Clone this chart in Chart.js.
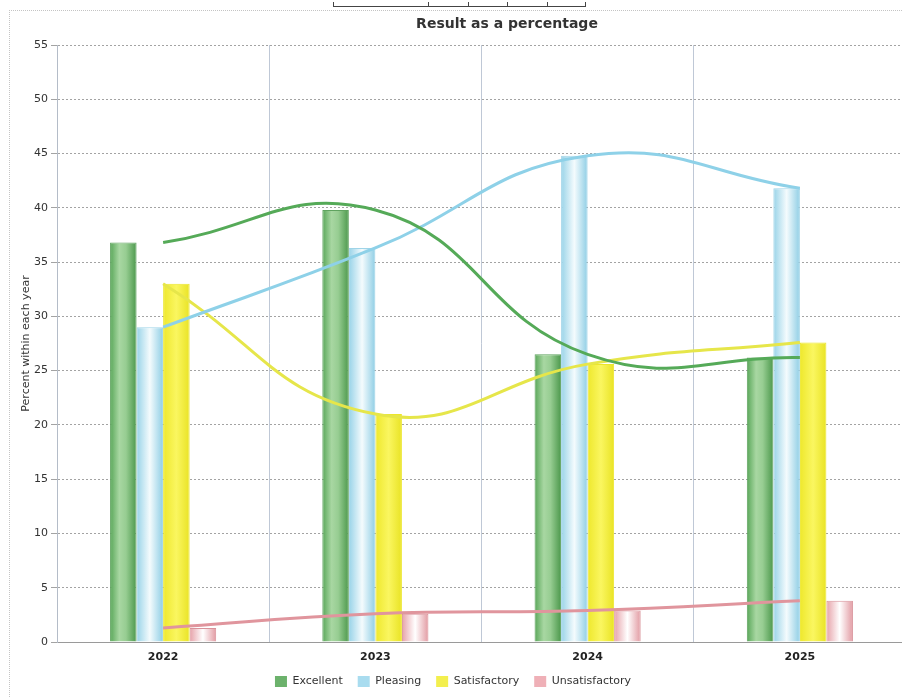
<!DOCTYPE html>
<html>
<head>
<meta charset="utf-8">
<script src="https://cdn.jsdelivr.net/npm/chart.js@4.4.1/dist/chart.umd.min.js"></script>
<style>
  html, body { margin: 0; padding: 0; background: #fff; overflow: hidden; width: 902px; height: 698px; }
  #wrap { position: relative; width: 920px; height: 698px; }
  #frame { position: absolute; left: 9px; top: 10px; width: 920px; height: 700px;
           border-left: 1px dotted #c4c4c4; border-top: 1px dotted #c4c4c4; }
  #bracket { position: absolute; left: 333px; top: 6px; width: 253px; height: 0; border-bottom: 1px solid #444; }
  .tk { position: absolute; top: -4px; width: 1px; height: 4px; background: #444; }
  canvas { position: absolute; left: 0; top: 0; }
</style>
</head>
<body>
<div id="wrap">
  <div id="frame"></div>
  <div id="bracket">
    <div class="tk" style="left:0"></div>
    <div class="tk" style="left:95px"></div>
    <div class="tk" style="left:135px"></div>
    <div class="tk" style="left:174px"></div>
    <div class="tk" style="left:214px"></div>
    <div class="tk" style="left:252px"></div>
  </div>
  <canvas id="chart" width="920" height="697"></canvas>
</div>
<script>
// Years and results (percent of each year's cohort)
const years = ['2022', '2023', '2024', '2025'];
const excellent = [36.8, 39.8, 26.5, 26.2];
const pleasing = [29.0, 36.3, 44.8, 41.8];
const satisfactory = [33.0, 21.0, 25.6, 27.6];
const unsatisfactory = [1.3, 2.6, 2.9, 3.8];
const yTicks = [0, 5, 10, 15, 20, 25, 30, 35, 40, 45, 50, 55];

const chartTitle = 'Result as a percentage';
const yTitle = 'Percent within each year';

// Horizontal colour stops giving each bar a rounded, cylinder-like shading
const cylinderPlugin = {
  id: 'cylinder',
  beforeDatasetDraw(chart, args) {
    const meta = args.meta;
    const ds = chart.data.datasets[args.index];
    if (meta.type !== 'bar' || !ds.shade) return;
    const ctx = chart.ctx;
    meta.data.forEach(el => {
      const { x, width } = el.getProps(['x', 'width'], true);
      const g = ctx.createLinearGradient(x - width / 2, 0, x + width / 2, 0);
      ds.shade.forEach(([pos, col]) => g.addColorStop(pos, col));
      el.options = Object.assign({}, el.options, { backgroundColor: g });
    });
  }
};

// Bold heading drawn above the plot
const headingPlugin = {
  id: 'heading',
  afterDraw(chart) {
    const ctx = chart.ctx;
    ctx.save();
    ctx.font = 'bold 14px "DejaVu Sans", Verdana, sans-serif';
    ctx.fillStyle = '#333';
    ctx.textAlign = 'center';
    ctx.textBaseline = 'middle';
    ctx.fillText(chartTitle, 507, 24);
    ctx.restore();
  }
};

function barSet(label, data, flat, border, shade) {
  return {
    type: 'bar', label, data, order: 1,
    backgroundColor: flat, borderColor: border, borderWidth: 1,
    borderSkipped: 'bottom', shade,
    barPercentage: 1.0, categoryPercentage: 0.5
  };
}
function lineSet(label, data, color) {
  return {
    type: 'line', label, data, order: 0,
    borderColor: color, borderWidth: 3, pointRadius: 0,
    tension: 0.45, fill: false
  };
}

const datasets = [
  barSet('Excellent', excellent, '#6cb26c', '#5fa35f',
    [[0, '#58a658'], [0.35, '#a8d7a2'], [0.6, '#97cd92'], [1, '#4c984c']]),
  barSet('Pleasing', pleasing, '#a9dcef', '#9fd4e8',
    [[0, '#98d3e8'], [0.5, '#f4fbfd'], [1, '#8fcee5']]),
  barSet('Satisfactory', satisfactory, '#f3ef4e', '#ece62a',
    [[0, '#eee82c'], [0.5, '#faf660'], [1, '#e9e324']]),
  barSet('Unsatisfactory', unsatisfactory, '#efb0b7', '#d9929a',
    [[0, '#e6a1a8'], [0.5, '#ffffff'], [1, '#e29aa2']]),
  lineSet('Excellent trend', excellent, '#55aa58'),
  lineSet('Pleasing trend', pleasing, '#8ed1e8'),
  lineSet('Satisfactory trend', satisfactory, '#e6e64a'),
  lineSet('Unsatisfactory trend', unsatisfactory, '#e0959d')
];

new Chart(document.getElementById('chart'), {
  type: 'bar',
  data: { labels: years, datasets },
  plugins: [cylinderPlugin, headingPlugin],
  options: {
    responsive: false,
    animation: false,
    layout: { padding: { top: 45, left: 0, right: 14, bottom: 0 } },
    plugins: {
      title: { display: false },
      tooltip: { enabled: false },
      legend: {
        position: 'bottom',
        labels: {
          font: { family: '"DejaVu Sans", Verdana, sans-serif', size: 11 },
          color: '#333',
          boxWidth: 12,
          boxHeight: 11,
          padding: 15,
          generateLabels(chart) {
            const items = Chart.defaults.plugins.legend.labels.generateLabels(chart);
            return items
              .filter(it => chart.data.datasets[it.datasetIndex].type === 'bar')
              .map(it => Object.assign(it, { lineWidth: 0 }));
          }
        }
      }
    },
    scales: {
      x: {
        offset: true,
        grid: { offset: true, color: 'rgba(170,182,200,0.75)', lineWidth: 1, drawTicks: false },
        border: { color: '#9a9a9a' },
        ticks: {
          font: { family: '"DejaVu Sans", Verdana, sans-serif', size: 11, weight: 'bold' },
          color: '#222',
          padding: 9
        },
        afterFit(scale) { scale.height = 19; }
      },
      y: {
        min: 0, max: 55,
        afterBuildTicks(scale) { scale.ticks = yTicks.map(v => ({ value: v })); },
        grid: { color: '#a3a3a3', lineWidth: 1, tickLength: 6 },
        border: { color: '#b4bcc8', dash: [2, 2] },
        ticks: {
          font: { family: '"DejaVu Sans", Verdana, sans-serif', size: 11 },
          color: '#333',
          padding: 3
        },
        title: {
          display: true,
          text: yTitle,
          font: { family: '"DejaVu Sans", Verdana, sans-serif', size: 11 },
          color: '#333',
          padding: { top: 20, bottom: 0 }
        },
        afterFit(scale) { scale.width = 57; }
      }
    }
  }
});
</script>
</body>
</html>
